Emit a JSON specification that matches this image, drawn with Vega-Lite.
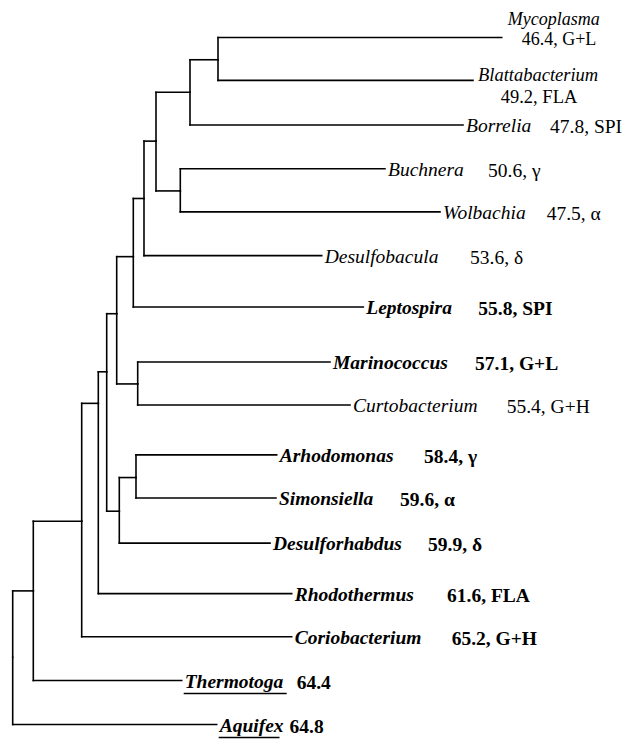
{
  "$schema": "https://vega.github.io/schema/vega-lite/v6.json",
  "width": 629,
  "height": 739,
  "autosize": {"type": "fit", "contains": "padding"},
  "padding": 0,
  "background": "white",
  "config": {"view": {"stroke": null}},
  "datasets": {
    "tree": [
      {"id": "Mycoplasma", "parent": "n1", "x": 501.7, "y": 37.7, "name": "Mycoplasma", "gc": 46.4, "note": "46.4, G+L", "noteX": 559, "outgroup": false},
      {"id": "Blattabacterium", "parent": "n1", "x": 473, "y": 80.7, "name": "Blattabacterium", "gc": 49.2, "note": "49.2, FLA", "noteX": 539, "outgroup": false},
      {"id": "Borrelia", "parent": "n2", "x": 463, "y": 125.5, "name": "Borrelia", "gc": 47.8, "note": "47.8, SPI", "noteX": 550, "outgroup": false},
      {"id": "Buchnera", "parent": "n3", "x": 385, "y": 169.5, "name": "Buchnera", "gc": 50.6, "note": "50.6, γ", "noteX": 488, "outgroup": false},
      {"id": "Wolbachia", "parent": "n3", "x": 440, "y": 212.7, "name": "Wolbachia", "gc": 47.5, "note": "47.5, α", "noteX": 546.7, "outgroup": false},
      {"id": "Desulfobacula", "parent": "n5", "x": 321.7, "y": 256.7, "name": "Desulfobacula", "gc": 53.6, "note": "53.6, δ", "noteX": 470, "outgroup": false},
      {"id": "Leptospira", "parent": "n6", "x": 363.3, "y": 308.3, "name": "Leptospira", "gc": 55.8, "note": "55.8, SPI", "noteX": 478.3, "outgroup": false},
      {"id": "Marinococcus", "parent": "n7", "x": 330, "y": 363.5, "name": "Marinococcus", "gc": 57.1, "note": "57.1, G+L", "noteX": 475, "outgroup": false},
      {"id": "Curtobacterium", "parent": "n7", "x": 350, "y": 406.7, "name": "Curtobacterium", "gc": 55.4, "note": "55.4, G+H", "noteX": 506.7, "outgroup": false},
      {"id": "Arhodomonas", "parent": "n9", "x": 276.7, "y": 456.7, "name": "Arhodomonas", "gc": 58.4, "note": "58.4, γ", "noteX": 424, "outgroup": false},
      {"id": "Simonsiella", "parent": "n9", "x": 276, "y": 500, "name": "Simonsiella", "gc": 59.6, "note": "59.6, α", "noteX": 400, "outgroup": false},
      {"id": "Desulforhabdus", "parent": "n10", "x": 270, "y": 545.3, "name": "Desulforhabdus", "gc": 59.9, "note": "59.9, δ", "noteX": 428, "outgroup": false},
      {"id": "Rhodothermus", "parent": "n12", "x": 291.7, "y": 596, "name": "Rhodothermus", "gc": 61.6, "note": "61.6, FLA", "noteX": 447, "outgroup": false},
      {"id": "Coriobacterium", "parent": "n13", "x": 291.7, "y": 639.3, "name": "Coriobacterium", "gc": 65.2, "note": "65.2, G+H", "noteX": 451.7, "outgroup": false},
      {"id": "Thermotoga", "parent": "n14", "x": 181.7, "y": 683.3, "name": "Thermotoga", "gc": 64.4, "note": "64.4", "noteX": 296.7, "outgroup": true},
      {"id": "Aquifex", "parent": "n15", "x": 216.7, "y": 727.5, "name": "Aquifex", "gc": 64.8, "note": "64.8", "noteX": 289.5, "outgroup": true},
      {"id": "n1", "parent": "n2", "x": 218, "y": 60},
      {"id": "n2", "parent": "n4", "x": 190, "y": 92.7},
      {"id": "n3", "parent": "n4", "x": 180.3, "y": 191.7},
      {"id": "n4", "parent": "n5", "x": 156, "y": 141.7},
      {"id": "n5", "parent": "n6", "x": 144, "y": 199.3},
      {"id": "n6", "parent": "n8", "x": 133.3, "y": 257.7},
      {"id": "n7", "parent": "n8", "x": 137.7, "y": 385.5},
      {"id": "n8", "parent": "n11", "x": 116.7, "y": 315},
      {"id": "n9", "parent": "n10", "x": 136, "y": 479.5},
      {"id": "n10", "parent": "n11", "x": 119.3, "y": 513.3},
      {"id": "n11", "parent": "n12", "x": 106.7, "y": 373.3},
      {"id": "n12", "parent": "n13", "x": 98.3, "y": 405},
      {"id": "n13", "parent": "n14", "x": 81.7, "y": 523.3},
      {"id": "n14", "parent": "n15", "x": 33.3, "y": 593.3},
      {"id": "n15", "parent": null, "x": 12.7, "y": 660}
    ]
  },
  "data": {"name": "tree"},
  "transform": [
    {"lookup": "parent", "from": {"data": {"name": "tree"}, "key": "id", "fields": ["x", "y"]}, "as": ["px", "py"]}
  ],
  "layer": [
    {
      "transform": [{"filter": "isValid(datum.px)"}],
      "mark": {"type": "rule", "color": "black", "strokeWidth": 1.6, "strokeCap": "square"},
      "encoding": {
        "x": {"field": "px", "type": "quantitative", "scale": {"domain": [0, 629], "nice": false, "zero": false}, "axis": null},
        "x2": {"field": "x"},
        "y": {"field": "y", "type": "quantitative", "scale": {"domain": [0, 739], "reverse": true, "nice": false, "zero": false}, "axis": null}
      }
    },
    {
      "transform": [{"filter": "isValid(datum.px)"}],
      "mark": {"type": "rule", "color": "black", "strokeWidth": 1.6, "strokeCap": "square"},
      "encoding": {
        "x": {"field": "px", "type": "quantitative", "scale": {"domain": [0, 629], "nice": false, "zero": false}, "axis": null},
        "y": {"field": "py", "type": "quantitative", "scale": {"domain": [0, 739], "reverse": true, "nice": false, "zero": false}, "axis": null},
        "y2": {"field": "y"}
      }
    },
    {
      "transform": [{"filter": "isValid(datum.name) && datum.gc < 55.5 && datum.name !== 'Mycoplasma' && datum.name !== 'Blattabacterium'"}],
      "mark": {"type": "text", "align": "left", "baseline": "alphabetic", "dx": 3, "dy": 7, "font": "Liberation Serif", "fontSize": 19.5, "fontStyle": "italic", "color": "black"},
      "encoding": {
        "x": {"field": "x", "type": "quantitative", "scale": {"domain": [0, 629], "nice": false, "zero": false}, "axis": null},
        "y": {"field": "y", "type": "quantitative", "scale": {"domain": [0, 739], "reverse": true, "nice": false, "zero": false}, "axis": null},
        "text": {"field": "name"}
      }
    },
    {
      "transform": [{"filter": "isValid(datum.name) && datum.gc < 55.5 && datum.name !== 'Mycoplasma' && datum.name !== 'Blattabacterium'"}],
      "mark": {"type": "text", "align": "left", "baseline": "alphabetic", "dy": 8, "font": "Liberation Serif", "fontSize": 19.5, "color": "black"},
      "encoding": {
        "x": {"field": "noteX", "type": "quantitative", "scale": {"domain": [0, 629], "nice": false, "zero": false}, "axis": null},
        "y": {"field": "y", "type": "quantitative", "scale": {"domain": [0, 739], "reverse": true, "nice": false, "zero": false}, "axis": null},
        "text": {"field": "note"}
      }
    },
    {
      "transform": [{"filter": "isValid(datum.name) && datum.gc > 55.5"}],
      "mark": {"type": "text", "align": "left", "baseline": "alphabetic", "dx": 3, "dy": 7, "font": "Liberation Serif", "fontSize": 19.5, "fontStyle": "italic", "fontWeight": "bold", "color": "black"},
      "encoding": {
        "x": {"field": "x", "type": "quantitative", "scale": {"domain": [0, 629], "nice": false, "zero": false}, "axis": null},
        "y": {"field": "y", "type": "quantitative", "scale": {"domain": [0, 739], "reverse": true, "nice": false, "zero": false}, "axis": null},
        "text": {"field": "name"}
      }
    },
    {
      "transform": [{"filter": "isValid(datum.name) && datum.gc > 55.5"}],
      "mark": {"type": "text", "align": "left", "baseline": "alphabetic", "dy": 8, "font": "Liberation Serif", "fontSize": 19.5, "fontWeight": "bold", "color": "black"},
      "encoding": {
        "x": {"field": "noteX", "type": "quantitative", "scale": {"domain": [0, 629], "nice": false, "zero": false}, "axis": null},
        "y": {"field": "y", "type": "quantitative", "scale": {"domain": [0, 739], "reverse": true, "nice": false, "zero": false}, "axis": null},
        "text": {"field": "note"}
      }
    },
    {
      "transform": [{"filter": "datum.name === 'Mycoplasma'"}],
      "mark": {"type": "text", "align": "left", "baseline": "alphabetic", "dx": 6, "dy": -13, "font": "Liberation Serif", "fontSize": 18, "fontStyle": "italic", "color": "black"},
      "encoding": {
        "x": {"field": "x", "type": "quantitative", "scale": {"domain": [0, 629], "nice": false, "zero": false}, "axis": null},
        "y": {"field": "y", "type": "quantitative", "scale": {"domain": [0, 739], "reverse": true, "nice": false, "zero": false}, "axis": null},
        "text": {"field": "name"}
      }
    },
    {
      "transform": [{"filter": "datum.name === 'Mycoplasma'"}],
      "mark": {"type": "text", "align": "center", "baseline": "alphabetic", "dy": 7, "font": "Liberation Serif", "fontSize": 18, "color": "black"},
      "encoding": {
        "x": {"field": "noteX", "type": "quantitative", "scale": {"domain": [0, 629], "nice": false, "zero": false}, "axis": null},
        "y": {"field": "y", "type": "quantitative", "scale": {"domain": [0, 739], "reverse": true, "nice": false, "zero": false}, "axis": null},
        "text": {"field": "note"}
      }
    },
    {
      "transform": [{"filter": "datum.name === 'Blattabacterium'"}],
      "mark": {"type": "text", "align": "left", "baseline": "alphabetic", "dx": 5, "dy": 1, "font": "Liberation Serif", "fontSize": 18.5, "fontStyle": "italic", "color": "black"},
      "encoding": {
        "x": {"field": "x", "type": "quantitative", "scale": {"domain": [0, 629], "nice": false, "zero": false}, "axis": null},
        "y": {"field": "y", "type": "quantitative", "scale": {"domain": [0, 739], "reverse": true, "nice": false, "zero": false}, "axis": null},
        "text": {"field": "name"}
      }
    },
    {
      "transform": [{"filter": "datum.name === 'Blattabacterium'"}],
      "mark": {"type": "text", "align": "center", "baseline": "alphabetic", "dy": 22.5, "font": "Liberation Serif", "fontSize": 18.5, "color": "black"},
      "encoding": {
        "x": {"field": "noteX", "type": "quantitative", "scale": {"domain": [0, 629], "nice": false, "zero": false}, "axis": null},
        "y": {"field": "y", "type": "quantitative", "scale": {"domain": [0, 739], "reverse": true, "nice": false, "zero": false}, "axis": null},
        "text": {"field": "note"}
      }
    },
    {
      "transform": [{"filter": "datum.outgroup === true"}],
      "mark": {"type": "rule", "color": "black", "strokeWidth": 1.5, "xOffset": 2, "x2Offset": -10, "yOffset": 13},
      "encoding": {
        "x": {"field": "x", "type": "quantitative", "scale": {"domain": [0, 629], "nice": false, "zero": false}, "axis": null},
        "x2": {"field": "noteX"},
        "y": {"field": "y", "type": "quantitative", "scale": {"domain": [0, 739], "reverse": true, "nice": false, "zero": false}, "axis": null}
      }
    }
  ]
}
